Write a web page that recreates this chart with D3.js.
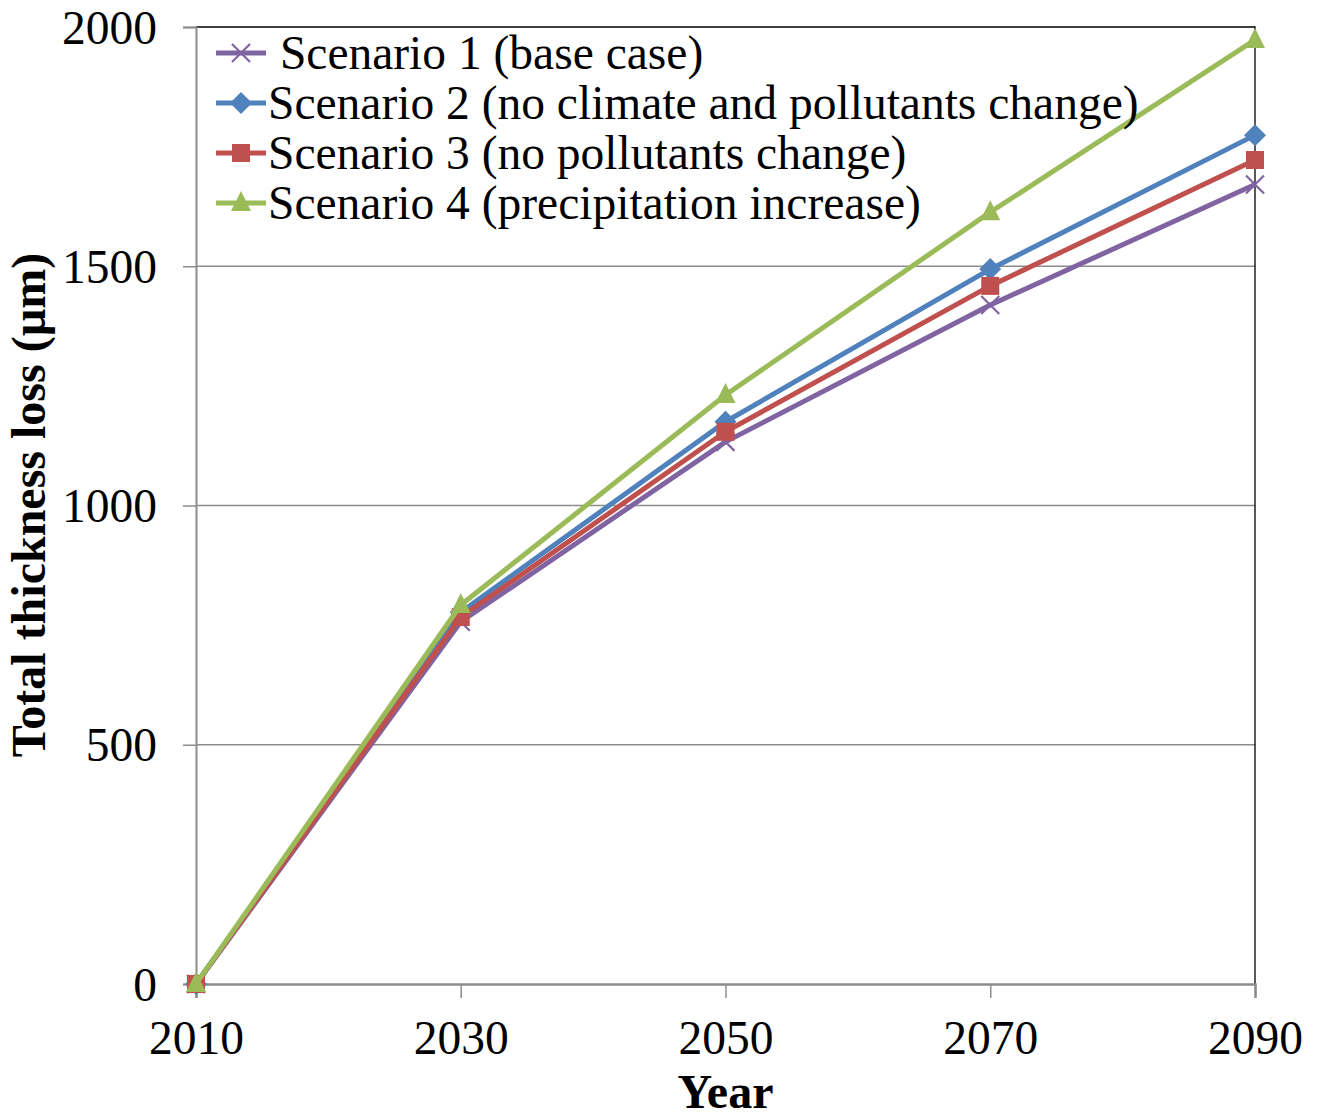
<!DOCTYPE html>
<html>
<head>
<meta charset="utf-8">
<script src="https://cdn.jsdelivr.net/npm/d3@7"></script>
<style>
  html, body { margin: 0; padding: 0; background: #fff; }
  svg text { font-family: "Liberation Serif", "Times New Roman", serif; fill: #000; }
</style>
</head>
<body>
<svg id="chart" width="1320" height="1118"></svg>
<script>
// Years on the category axis
const years = ["2010", "2030", "2050", "2070", "2090"];

// Total thickness loss (µm) per scenario
const scenario1 = [0, 757, 1133, 1419, 1671];
const scenario2 = [0, 777, 1175, 1494, 1774];
const scenario3 = [0, 767, 1154, 1459, 1722];
const scenario4 = [0, 792, 1231, 1613, 1973];

const seriesNames = [
  " Scenario 1 (base case)",
  "Scenario 2 (no climate and pollutants change)",
  "Scenario 3 (no pollutants change)",
  "Scenario 4 (precipitation increase)"
];
const yTicks = [0, 500, 1000, 1500, 2000];

const colors = ["#8064A2", "#4F81BD", "#C0504D", "#9BBB59"];
const symbols = ["cross", "diamond", "square", "triangle"];

const series = [scenario1, scenario2, scenario3, scenario4].map((vals, i) => ({
  name: seriesNames[i], color: colors[i], symbol: symbols[i],
  points: vals.map((v, j) => ({ year: years[j], value: v }))
}));

const svg = d3.select("#chart");
const plotLeft = 196, plotRight = 1255, plotTop = 27, plotBottom = 984;
const fontSize = 47.5;

const x = d3.scalePoint().domain(years).range([plotLeft, plotRight]);
const y = d3.scaleLinear().domain([0, 2000]).range([plotBottom, plotTop]);

// Horizontal gridlines
svg.append("g").selectAll("line")
  .data(yTicks.filter(t => t > 0 && t < 2000))
  .join("line")
  .attr("x1", plotLeft).attr("x2", plotRight)
  .attr("y1", d => y(d)).attr("y2", d => y(d))
  .attr("stroke", "#8c8c8c").attr("stroke-width", 1.3);

// Plot-area border (top and right)
svg.append("path")
  .attr("d", `M${plotLeft},${plotTop}H${plotRight}V${plotBottom}`)
  .attr("fill", "none").attr("stroke", "#000").attr("stroke-width", 1.3);

// Y axis
const yAxis = svg.append("g")
  .attr("transform", `translate(${plotLeft},0)`)
  .call(d3.axisLeft(y).tickValues(yTicks).tickSize(13).tickPadding(26).tickFormat(d3.format("d")));
yAxis.select(".domain").attr("stroke", "#8c8c8c").attr("stroke-width", 2);
yAxis.selectAll(".tick line").attr("stroke", "#8c8c8c").attr("stroke-width", 1.5);
yAxis.selectAll(".tick text").attr("font-size", fontSize).attr("font-family", "Liberation Serif").attr("dy", "0.34em");

// X axis
const xAxis = svg.append("g")
  .attr("transform", `translate(0,${plotBottom})`)
  .call(d3.axisBottom(x).tickSize(14).tickPadding(22));
xAxis.select(".domain").attr("stroke", "#8c8c8c").attr("stroke-width", 2.5);
xAxis.selectAll(".tick line").attr("stroke", "#8c8c8c").attr("stroke-width", 1.5);
xAxis.selectAll(".tick text").attr("font-size", fontSize).attr("font-family", "Liberation Serif").attr("dy", "0.71em");

// Axis titles
svg.append("text")
  .attr("x", x("2050")).attr("y", 1108)
  .attr("text-anchor", "middle").attr("font-size", 48).attr("font-weight", "bold")
  .text("Year");
svg.append("text")
  .attr("transform", "translate(45,505) rotate(-90)")
  .attr("text-anchor", "middle").attr("font-size", 48).attr("font-weight", "bold")
  .text("Total thickness loss (µm)");

// Marker shapes
function marker(sel, s) {
  if (s.symbol === "cross") {
    sel.append("path").attr("d", "M-9,-9L9,9M-9,9L9,-9")
      .attr("stroke", s.color).attr("stroke-width", 2.2).attr("fill", "none");
  } else if (s.symbol === "diamond") {
    sel.append("path").attr("d", "M0,-11L11,0L0,11L-11,0Z").attr("fill", s.color);
  } else if (s.symbol === "square") {
    sel.append("path").attr("d", "M-9,-9H9V9H-9Z").attr("fill", s.color);
  } else {
    sel.append("path").attr("d", "M0,-12L10,8H-10Z").attr("fill", s.color);
  }
}

const line = d3.line().x(d => x(d.year)).y(d => y(d.value));

series.forEach(s => {
  const g = svg.append("g");
  g.append("path").datum(s.points)
    .attr("d", line).attr("fill", "none")
    .attr("stroke", s.color).attr("stroke-width", 5).attr("stroke-linejoin", "round");
  s.points.forEach(p => {
    const m = g.append("g").attr("transform", `translate(${x(p.year)},${y(p.value)})`);
    marker(m, s);
  });
});

// Legend
const legend = svg.append("g");
series.forEach((s, i) => {
  const ly = 53 + i * 50;
  const g = legend.append("g");
  g.append("line").attr("x1", 216).attr("x2", 266).attr("y1", ly).attr("y2", ly)
    .attr("stroke", s.color).attr("stroke-width", 5);
  const m = g.append("g").attr("transform", `translate(241,${ly})`);
  marker(m, s);
  g.append("text").attr("x", 268).attr("y", ly + 16)
    .attr("font-size", fontSize).style("white-space", "pre")
    .text(s.name);
});
</script>
</body>
</html>
